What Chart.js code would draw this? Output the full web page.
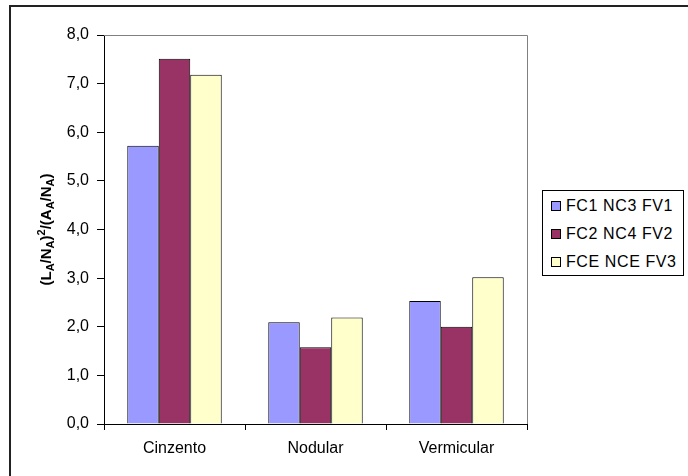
<!DOCTYPE html>
<html lang="pt">
<head>
    <meta charset="UTF-8">
    <title>Grafite - fator de forma</title>
    <script src="https://cdn.jsdelivr.net/npm/chart.js"></script>
    <style>
        body {
            margin: 0;
            padding: 0;
            background: #ffffff;
            font-family: 'Liberation Sans', Arial, sans-serif;
        }
        .wrap {
            position: relative;
            width: 688px;
            height: 476px;
            overflow: hidden;
        }
        .frame {
            position: absolute;
            left: 9px;
            top: 5px;
            width: 700px;
            height: 500px;
            border-top: 2px solid #222;
            border-left: 2px solid #222;
            pointer-events: none;
        }
        .legend {
            position: absolute;
            left: 542px;
            top: 190px;
            width: 142px;
            height: 86px;
            box-sizing: border-box;
            padding: 1px 0 0 8px;
            border: 1px solid #000;
            background: #fff;
            font-size: 16px;
            letter-spacing: 0.6px;
            color: #000;
        }
        .legend-item {
            display: flex;
            align-items: center;
            height: 28px;
        }
        .legend-swatch {
            width: 8px;
            height: 8px;
            border: 1px solid #000;
            margin-right: 5px;
            flex: none;
        }
        canvas {
            position: absolute;
            left: 0;
            top: 0;
        }
    </style>
</head>
<body>
    <div class="wrap">
        <canvas id="chart" width="688" height="476"></canvas>
        <div class="frame"></div>
        <div class="legend" id="legend"></div>
    </div>

    <script>
        const categories = ['Cinzento', 'Nodular', 'Vermicular'];
        const seriesNames = ['FC1 NC3 FV1', 'FC2 NC4 FV2', 'FCE NCE FV3'];
        const fc1 = [5.72, 2.09, 2.53];
        const fc2 = [7.51, 1.58, 2.00];
        const fce = [7.18, 2.19, 3.02];
        const colors = ['#9999FF', '#993366', '#FFFFCC'];

        // titulo do eixo y com indices
        const yTitle = [
            ['(L', 'n'], ['A', 'sub'], ['/N', 'n'], ['A', 'sub'], [')', 'n'], ['2', 'sup'],
            ['/(A', 'n'], ['A', 'sub'], ['/N', 'n'], ['A', 'sub'], [')', 'n']
        ];

        const fontFam = "'Liberation Sans', Arial, sans-serif";

        const plotFrame = {
            id: 'plotFrame',
            afterDraw(chart) {
                const { ctx, chartArea: a } = chart;
                ctx.save();
                ctx.strokeStyle = '#808080';
                ctx.lineWidth = 1;
                ctx.beginPath();
                ctx.moveTo(a.left, a.top + 0.5);
                ctx.lineTo(a.right + 0.5, a.top + 0.5);
                ctx.lineTo(a.right + 0.5, a.bottom);
                ctx.stroke();

                // y title
                const big = 'bold 15px ' + fontFam;
                const small = 'bold 11px ' + fontFam;
                let total = 0;
                yTitle.forEach(([t, k]) => {
                    ctx.font = k === 'n' ? big : small;
                    total += ctx.measureText(t).width;
                });
                ctx.translate(47, (a.top + a.bottom) / 2);
                ctx.rotate(-Math.PI / 2);
                ctx.fillStyle = '#000';
                ctx.textBaseline = 'alphabetic';
                let x = -total / 2;
                yTitle.forEach(([t, k]) => {
                    ctx.font = k === 'n' ? big : small;
                    const dy = k === 'sub' ? 3 : (k === 'sup' ? -6 : 0);
                    ctx.fillText(t, x, 4 + dy);
                    x += ctx.measureText(t).width;
                });
                ctx.restore();
            }
        };

        const datasets = [fc1, fc2, fce].map((vals, i) => ({
            label: seriesNames[i],
            data: vals,
            backgroundColor: colors[i],
            borderColor: '#000',
            borderWidth: 1,
            categoryPercentage: 0.67,
            barPercentage: 1.0
        }));

        document.getElementById('legend').innerHTML = seriesNames.map((n, i) =>
            '<div class="legend-item"><span class="legend-swatch" style="background:' + colors[i] + '"></span>' + n + '</div>'
        ).join('');

        new Chart(document.getElementById('chart'), {
            type: 'bar',
            data: { labels: categories, datasets: datasets },
            options: {
                responsive: false,
                animation: false,
                layout: { padding: { left: 0, right: 161, top: 35, bottom: 0 } },
                plugins: {
                    legend: { display: false },
                    tooltip: { enabled: false }
                },
                scales: {
                    x: {
                        afterFit(scale) { scale.height = 52; },
                        grid: {
                            offset: true,
                            drawOnChartArea: false,
                            drawTicks: true,
                            tickLength: 6,
                            tickColor: '#000'
                        },
                        border: { display: true, color: '#000', width: 1 },
                        ticks: {
                            color: '#000',
                            padding: 9,
                            font: { family: fontFam, size: 16 }
                        }
                    },
                    y: {
                        min: 0,
                        max: 8,
                        afterFit(scale) { scale.width = 104; },
                        grid: {
                            drawOnChartArea: false,
                            drawTicks: true,
                            tickLength: 7,
                            tickColor: '#000'
                        },
                        border: { display: true, color: '#000', width: 1 },
                        ticks: {
                            stepSize: 1,
                            color: '#000',
                            padding: 8,
                            font: { family: fontFam, size: 16 },
                            callback: v => v.toFixed(1).replace('.', ',')
                        }
                    }
                }
            },
            plugins: [plotFrame]
        });
    </script>
</body>
</html>
